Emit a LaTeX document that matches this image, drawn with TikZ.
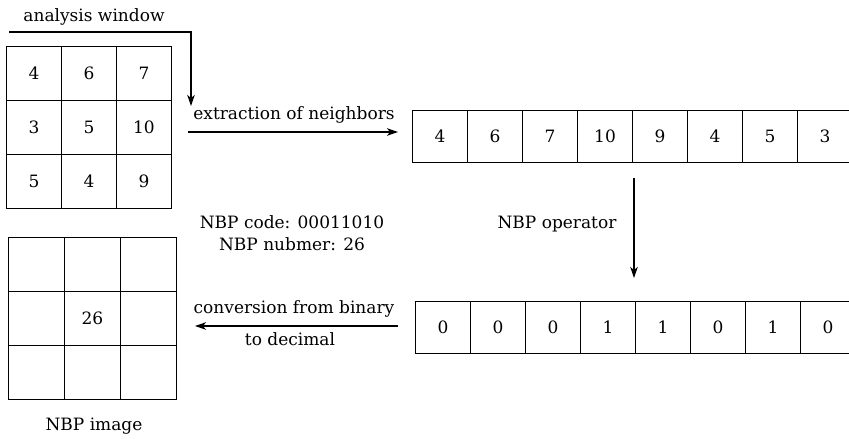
\documentclass[tikz,border=0pt]{standalone}
\usepackage{fontspec}
\setmainfont{DejaVu Serif}
\usetikzlibrary{arrows.meta}
\newcommand\dtxt{\fontsize{17}{20}\selectfont}
\tikzset{
  cellbox/.style={draw, line width=1pt, minimum width=55pt, minimum height=54pt, inner sep=0pt, anchor=center, font=\dtxt},
  gridbox/.style={cellbox, minimum width=56pt},
  rowbox/.style={cellbox, minimum height=52pt},
  lbl/.style={font=\dtxt, inner sep=0pt, anchor=base},
  arr/.style={line width=1.3pt, -{Stealth[length=11pt,width=7.5pt,inset=3pt]}}
}
\begin{document}
\begin{tikzpicture}[x=1pt,y=-1pt]
\useasboundingbox[fill=white] (0,0) rectangle (849,439);
% top grid (analysis window)
\foreach \a/\b/\c [count=\r from 0] in {4/6/7,3/5/10,5/4/9}{
  \node[cellbox] (g\r a) at (34,73.5+54*\r) {\a};
  \node[cellbox] (g\r b) at (89,73.5+54*\r) {\b};
  \node[cellbox] (g\r c) at (144,73.5+54*\r) {\c};
}
% bottom grid (NBP image)
\foreach \a/\b/\c [count=\r from 0] in {{}/{}/{},{}/26/{},{}/{}/{}}{
  \node[gridbox] (h\r a) at (36.5,264.5+54*\r) {\a};
  \node[gridbox] (h\r b) at (92.5,264.5+54*\r) {\b};
  \node[gridbox] (h\r c) at (148.5,264.5+54*\r) {\c};
}
% top row (neighbors)
\foreach \v [count=\i from 0] in {4,6,7,10,9,4,5,3}{
  \node[rowbox] (t\i) at (440+55*\i,136.5) {\v};
}
% bottom row (binary)
\foreach \v [count=\i from 0] in {0,0,0,1,1,0,1,0}{
  \node[rowbox] (b\i) at (443+55*\i,327.5) {\v};
}
% labels
\node[lbl] (law) at (94,21.5) {analysis window};
\node[lbl] (lex) at (294,119) {extraction of neighbors};
\node[lbl] (lc1) at (292,228) {NBP code: 00011010};
\node[lbl] (lc2) at (292,250) {NBP nubmer: 26};
\node[lbl] (lop) at (557,228) {NBP operator};
\node[lbl] (lcv1) at (294,313) {conversion from binary};
\node[lbl] (lcv2) at (290,345) {to decimal};
\node[lbl] (lim) at (94,430) {NBP image};
% arrows
\coordinate (awS) at (9,32);
\coordinate (awE) at (191,106);
\draw[arr] (awS) -| (awE);
\coordinate (exS) at (188,132);
\coordinate (exE) at (398,132);
\draw[arr] (exS) -- (exE);
\coordinate (dnS) at (634,178);
\coordinate (dnE) at (634,278);
\draw[arr] (dnS) -- (dnE);
\coordinate (cvS) at (398,326);
\coordinate (cvE) at (195,326);
\draw[arr] (cvS) -- (cvE);
\end{tikzpicture}
\end{document}
